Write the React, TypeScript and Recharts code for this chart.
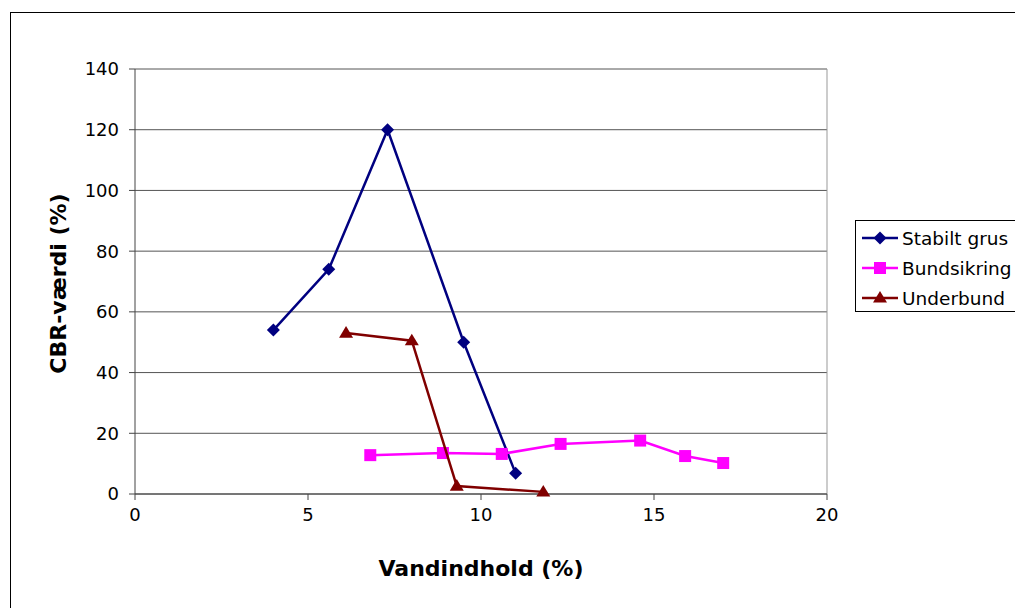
import React from "react";
import {
  ScatterChart,
  Scatter,
  XAxis,
  YAxis,
  CartesianGrid,
  ReferenceLine,
} from "recharts";

// Vandindhold (%) / CBR-værdi (%)
const stabiltGrusX = [4.0, 5.6, 7.3, 9.5, 11.0];
const stabiltGrusY = [54, 74, 120, 50, 6.8];

const bundsikringX = [6.8, 8.9, 10.6, 12.3, 14.6, 15.9, 17.0];
const bundsikringY = [12.8, 13.5, 13.2, 16.5, 17.6, 12.5, 10.2];

const underbundX = [6.1, 8.0, 9.3, 11.8];
const underbundY = [53, 50.5, 2.6, 0.7];

const xTicks = [0, 5, 10, 15, 20];
const yTicks = [0, 20, 40, 60, 80, 100, 120, 140];

const FONT = "'DejaVu Sans', Verdana, sans-serif";

const toPoints = (xs: number[], ys: number[]) =>
  xs.map((x, i) => ({ x, y: ys[i] }));

type Marker = "diamond" | "square" | "triangle";

const series: { name: string; color: string; marker: Marker; data: { x: number; y: number }[] }[] = [
  { name: "Stabilt grus", color: "#000080", marker: "diamond", data: toPoints(stabiltGrusX, stabiltGrusY) },
  { name: "Bundsikring", color: "#FF00FF", marker: "square", data: toPoints(bundsikringX, bundsikringY) },
  { name: "Underbund", color: "#800000", marker: "triangle", data: toPoints(underbundX, underbundY) },
];

const drawMarker = (kind: Marker, cx: number, cy: number, color: string) => {
  if (kind === "diamond") {
    const r = 6.5;
    return (
      <path
        d={`M${cx},${cy - r}L${cx + r},${cy}L${cx},${cy + r}L${cx - r},${cy}Z`}
        fill={color}
      />
    );
  }
  if (kind === "square") {
    const r = 6;
    return <rect x={cx - r} y={cy - r} width={r * 2} height={r * 2} fill={color} />;
  }
  const r = 7;
  return (
    <path
      d={`M${cx},${cy - r}L${cx + r},${cy + r * 0.65}L${cx - r},${cy + r * 0.65}Z`}
      fill={color}
    />
  );
};

const YLabel = (props: any) => {
  const vb = props.viewBox || {};
  const x = vb.x + 33;
  const y = vb.y + vb.height / 2 + 2;
  return (
    <text
      x={x}
      y={y}
      transform={`rotate(-90, ${x}, ${y})`}
      textAnchor="middle"
      dominantBaseline="central"
      fontFamily={FONT}
      fontWeight="bold"
      fontSize={22}
      fill="#000"
    >
      CBR-værdi (%)
    </text>
  );
};

const Legend = () => (
  <div
    style={{
      position: "absolute",
      left: 855,
      top: 220,
      width: 240,
      height: 90,
      border: "1px solid #000",
      background: "#fff",
      fontFamily: FONT,
      fontSize: 18.5,
    }}
  >
    {series.map((s, i) => (
      <div
        key={s.name}
        style={{ position: "absolute", left: 5, top: 3 + i * 30, height: 28, display: "flex", alignItems: "center" }}
      >
        <svg width={38} height={20}>
          <line x1={1} y1={10} x2={37} y2={10} stroke={s.color} strokeWidth={2.5} />
          {drawMarker(s.marker, 19, 10, s.color)}
        </svg>
        <span style={{ marginLeft: 3, whiteSpace: "nowrap" }}>{s.name}</span>
      </div>
    ))}
  </div>
);

export default function App() {
  return (
    <div
      style={{
        position: "absolute",
        left: 0,
        top: 0,
        width: 1015,
        height: 608,
        overflow: "hidden",
        background: "#fff",
      }}
    >
      <div
        style={{
          position: "absolute",
          left: 10,
          top: 12,
          width: 1030,
          height: 620,
          border: "1.5px solid #000",
        }}
      />
      <div style={{ position: "absolute", left: 0, top: 0 }}>
        <ScatterChart
          width={1015}
          height={608}
          margin={{ top: 69, right: 188, bottom: 24, left: 25 }}
        >
          <CartesianGrid vertical={false} stroke="#555" strokeWidth={1} />
          <XAxis
            type="number"
            dataKey="x"
            domain={[0, 20]}
            ticks={xTicks}
            interval={0}
            height={90}
            tickSize={6}
            tickMargin={8}
            stroke="#444"
            tick={{ fill: "#000", fontSize: 18, fontFamily: FONT }}
            label={{
              value: "Vandindhold (%)",
              position: "insideBottom",
              offset: 8,
              fill: "#000",
              fontSize: 22,
              fontWeight: "bold",
              fontFamily: FONT,
            }}
          />
          <YAxis
            type="number"
            dataKey="y"
            domain={[0, 140]}
            ticks={yTicks}
            interval={0}
            width={110}
            tickSize={6}
            tickMargin={10}
            stroke="#444"
            tick={{ fill: "#000", fontSize: 18, fontFamily: FONT }}
            label={<YLabel />}
          />
          <ReferenceLine x={20} stroke="#999" strokeWidth={1} />
          {series.map((s) => (
            <Scatter
              key={s.name}
              name={s.name}
              data={s.data}
              fill={s.color}
              line={{ stroke: s.color, strokeWidth: 2.5 }}
              lineType="joint"
              isAnimationActive={false}
              shape={(p: any) => drawMarker(s.marker, p.cx, p.cy, s.color)}
            />
          ))}
        </ScatterChart>
      </div>
      <Legend />
    </div>
  );
}
